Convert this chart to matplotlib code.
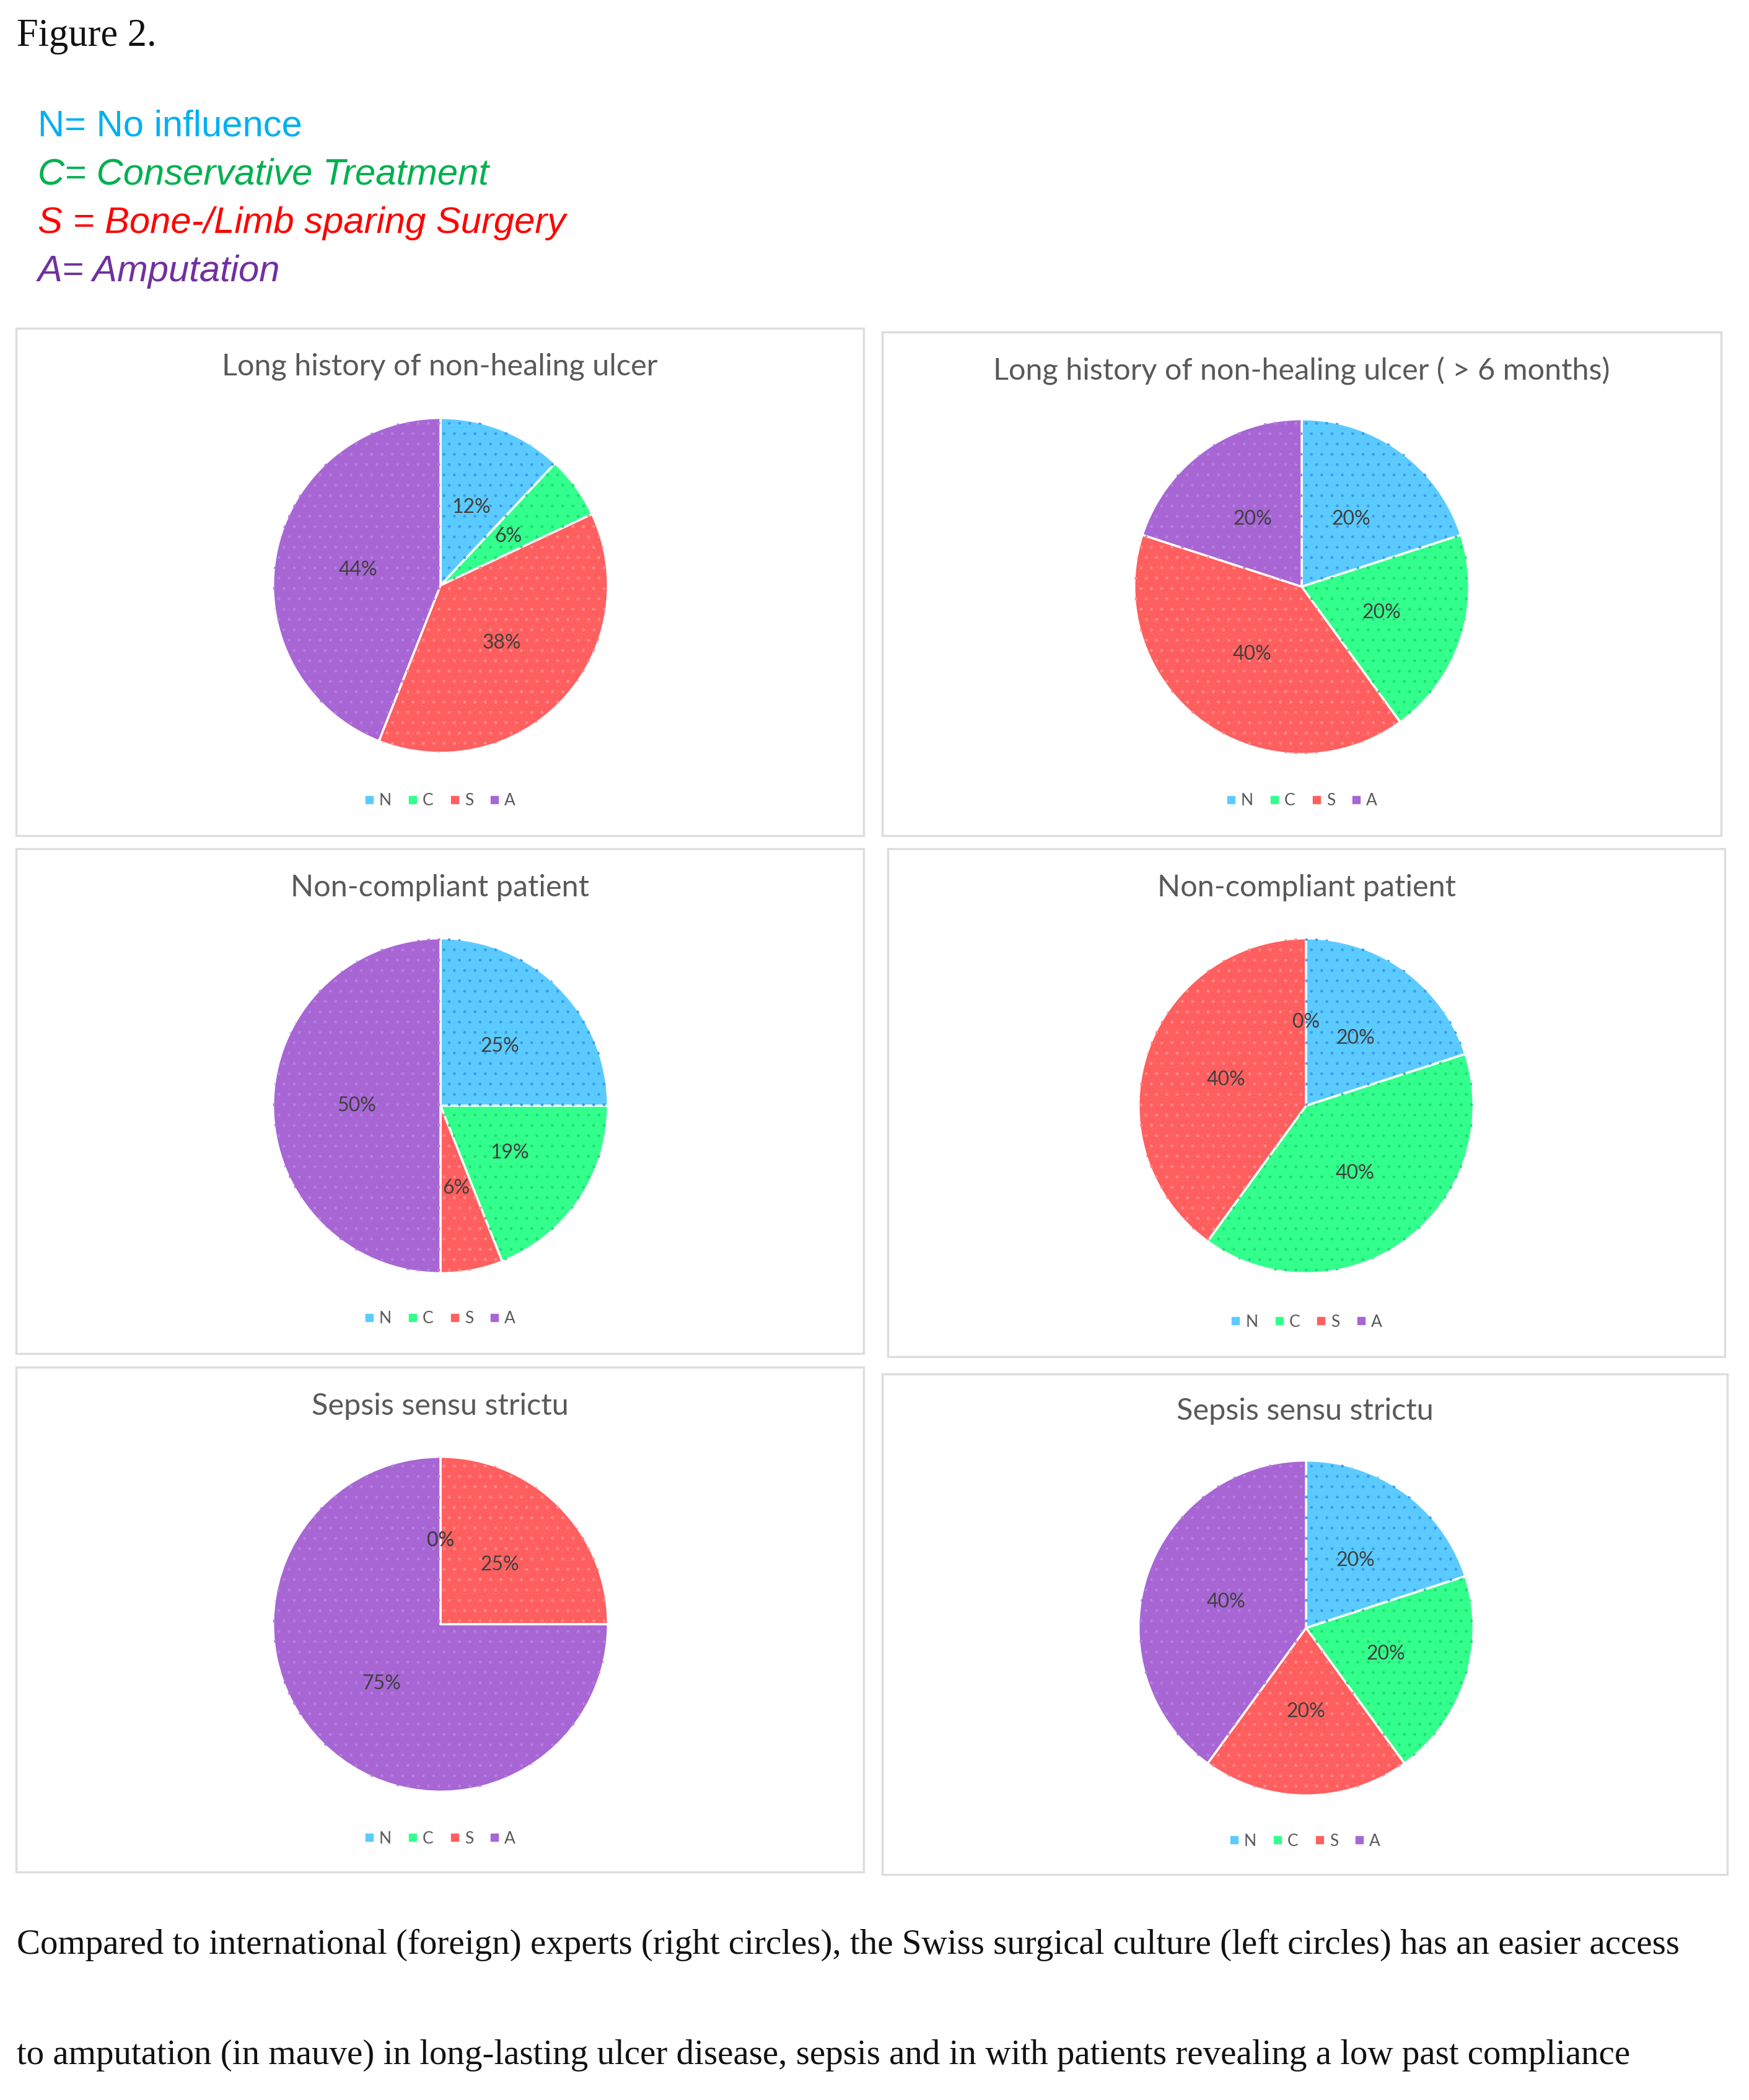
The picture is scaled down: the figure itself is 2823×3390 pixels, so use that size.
import matplotlib
matplotlib.use('Agg')
import matplotlib.pyplot as plt
from matplotlib.patches import Rectangle
from matplotlib.lines import Line2D

W, H = 2823, 3390

# data
codes = ['N', 'C', 'S', 'A']
colors = ['#5BCBFF', '#33FF8C', '#FF5F5F', '#A766D4']
dots = ['#3D9BF0', '#22DD77', '#FF8A8A', '#B57EE0']
titles = ['Long history of non-healing ulcer',
          'Long history of non-healing ulcer ( > 6 months)',
          'Non-compliant patient',
          'Non-compliant patient',
          'Sepsis sensu strictu',
          'Sepsis sensu strictu']
swiss_ulcer = [12, 6, 38, 44]
foreign_ulcer = [20, 20, 40, 20]
swiss_noncompliant = [25, 19, 6, 50]
foreign_noncompliant = [20, 40, 40, 0]
swiss_sepsis = [0, 0, 25, 75]
foreign_sepsis = [20, 20, 20, 40]
pies = [swiss_ulcer, foreign_ulcer, swiss_noncompliant,
        foreign_noncompliant, swiss_sepsis, foreign_sepsis]

key_lines = ['N= No influence', 'C= Conservative Treatment',
             'S = Bone-/Limb sparing Surgery', 'A= Amputation']
key_colors = ['#00B0F0', '#00B050', '#FF0000', '#7030A0']
key_styles = ['normal', 'italic', 'italic', 'italic']

caption = ['Compared to international (foreign) experts (right circles), the Swiss surgical culture (left circles) has an easier access',
           'to amputation (in mauve) in long-lasting ulcer disease, sepsis and in with patients revealing a low past compliance']

# layout in pixels (x0, y0, x1, y1), pie centre, title y, legend y
boxes = [(26, 530, 1394, 1349), (1424, 536, 2778, 1349),
         (26, 1370, 1394, 2185), (1433, 1370, 2784, 2190),
         (26, 2207, 1394, 3022), (1424, 2218, 2788, 3026)]
centres = [(711, 945), (2101, 947), (711, 1785), (2108, 1785),
           (711, 2622), (2108, 2628)]
title_y = [592, 599, 1433, 1433, 2270, 2278]
leg_y = [1293, 1293, 2129, 2134, 2968, 2972]
R = 273


def fx(x):
    return x / W


def fy(y):
    return 1 - y / H


fig = plt.figure(figsize=(W / 100, H / 100), dpi=100)
fig.patch.set_facecolor('white')

fig.text(fx(27), fy(74), 'Figure 2.', family='Liberation Serif',
         fontsize=45, va='baseline', ha='left', color='#111111')

for i, t in enumerate(key_lines):
    fig.text(fx(61), fy(219 + 78.5 * i), t, family='Liberation Sans',
             fontsize=43, style=key_styles[i], color=key_colors[i],
             va='baseline', ha='left')

for i, vals in enumerate(pies):
    x0, y0, x1, y1 = boxes[i]
    fig.add_artist(Rectangle((fx(x0), fy(y1)), fx(x1 - x0), (y1 - y0) / H,
                             transform=fig.transFigure, fill=False,
                             edgecolor='#DDDDDD', lw=2.5))
    cx, cy = centres[i]
    ax = fig.add_axes([fx(cx - R), fy(cy + R), 2 * R / W, 2 * R / H])
    wedges, _, autotexts = ax.pie(
        vals, colors=colors, startangle=90, counterclock=False,
        autopct=lambda p: f'{p:.0f}%', pctdistance=0.5,
        wedgeprops=dict(edgecolor='white', linewidth=2.5),
        textprops=dict(fontsize=23, color='#404040', family='Lato'))
    # dotted texture like the original fills
    tex = ax.pie(vals, startangle=90, counterclock=False,
                 wedgeprops=dict(fill=False, linewidth=0))[0]
    for w, c in zip(tex, dots):
        w.set_hatch('.')
        w.set_edgecolor(c)
        w.set_linewidth(0)
    ax.set_xlim(-1.01, 1.01)
    ax.set_ylim(-1.01, 1.01)
    ax.set_aspect('equal')
    ax.axis('off')

    xc = (x0 + x1) / 2
    fig.text(fx(xc), fy(title_y[i]), titles[i], family='Lato', fontsize=35,
             color='#595959', ha='center', va='center')

    handles = [Line2D([], [], marker='s', ls='', color=c, markersize=9)
               for c in colors]
    fig.legend(handles, codes, loc='center', ncol=4,
               bbox_to_anchor=(fx(xc), fy(leg_y[i])), frameon=False,
               handlelength=0.6, handletextpad=0.3, columnspacing=1.0,
               prop=dict(family='Lato', size=19), labelcolor='#595959')

fig.text(fx(27), fy(3154), caption[0], family='Liberation Serif',
         fontsize=41, va='baseline', ha='left', color='#111111')
fig.text(fx(27), fy(3332), caption[1], family='Liberation Serif',
         fontsize=41, va='baseline', ha='left', color='#111111')

fig.savefig('out.png', dpi=100, facecolor='white')
